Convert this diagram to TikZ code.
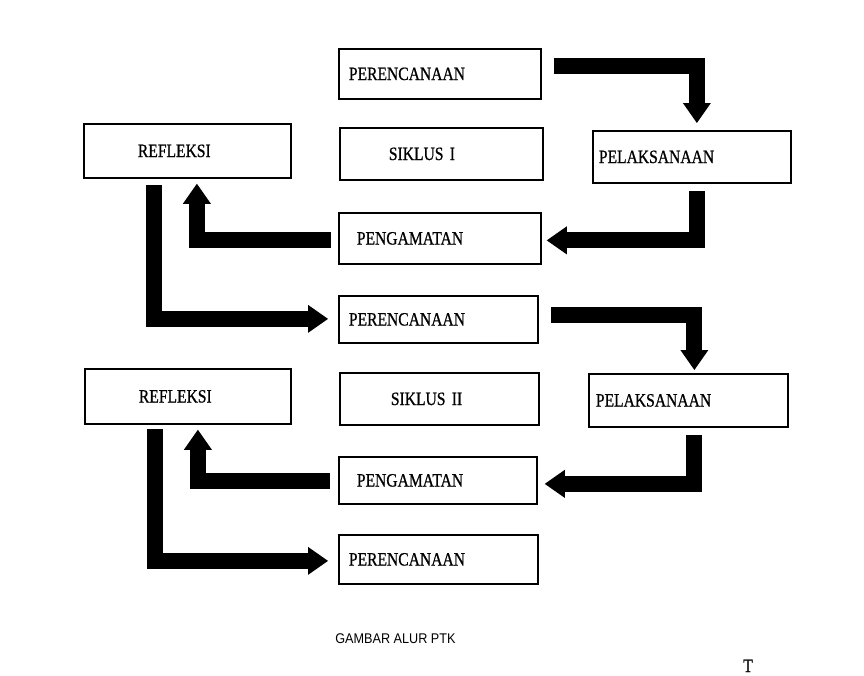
\documentclass[tikz,border=0pt]{standalone}
\usepackage{fontspec}
\usetikzlibrary{positioning, arrows.meta, calc}
\newfontfamily\tahapfont[FakeStretch=0.83,FakeBold=0.8]{Liberation Serif}
\newfontfamily\judulfont[FakeStretch=0.9]{Liberation Sans}

\begin{document}
\begin{tikzpicture}[x=0.02cm,y=-0.02cm,
kotak/.style={draw,line width=1pt,anchor=north west,inner ysep=0pt,align=left,
  font=\tahapfont\fontsize{10.7}{12}\selectfont},
panah/.style={line width=0.32cm,-{Triangle[length=0.4cm,width=0.56cm,line width=0pt]}}]
\useasboundingbox (0,0) rectangle (864,675);
\foreach \nama/\x/\y/\lb/\tg/\pad/\isi in
{per1/338/48/202/50/10/PERENCANAAN, sik1/339/127/203/52/49/SIKLUS I,
ref1/83/123/207/54/54/REFLEKSI, peng1/338/212/202/51/18/PENGAMATAN,
pel1/592/130/198/52/6/PELAKSANAAN, per2/338/295/199/47/10/PERENCANAAN,
ref2/84/368/206/55/54/REFLEKSI, sik2/339/372/199/52/51/SIKLUS II,
pel2/588/373/199/53/7/PELAKSANAAN, peng2/338/456/198/47/18/PENGAMATAN,
per3/338/534/199/49/10/PERENCANAAN}
{
\pgfmathsetmacro\lebar{(\lb-2*\pad)*0.02}
\pgfmathsetmacro\sisi{\pad*0.02}
\node[kotak,text width=\lebar cm,inner xsep=\sisi cm,minimum height=\tg*0.02cm] (\nama) at (\x,\y) {\isi};
}
% siklus I
\draw[panah] ($(per1.east)+(12,-7.5)$) -| ($(pel1.north)+(5,-7)$);
\draw[panah] ($(pel1.south)+(5,7)$) |- ($(peng1.east)+(5,2)$);
\draw[panah] ($(peng1.west)+(-7,1.5)$) -| ($(ref1.south)+(9.5,5)$);
\draw[panah] ($(ref1.south)+(-33.5,6)$) |- ($(per2.west)+(-10,-0.5)$);
% siklus II
\draw[panah] ($(per2.east)+(12,-4)$) -| ($(pel2.north)+(6,-3)$);
\draw[panah] ($(pel2.south)+(5.5,7)$) |- ($(peng2.east)+(7,3.5)$);
\draw[panah] ($(peng2.west)+(-8,1)$) -| ($(ref2.south)+(10,5)$);
\draw[panah] ($(ref2.south)+(-33,4)$) |- ($(per3.west)+(-10,1.5)$);
\node[font=\judulfont\fontsize{8}{10}\selectfont,anchor=base west,inner sep=0pt] (judul) at (335,643) {GAMBAR ALUR PTK};
\node[font=\tahapfont\fontsize{10.7}{12}\selectfont,anchor=base,inner sep=0pt] (tanda) at (748,672) {T};
\end{tikzpicture}
\end{document}
